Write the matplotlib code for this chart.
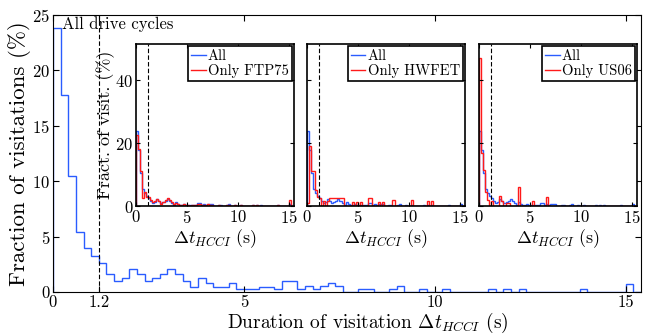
"""Fraction of visitations vs. HCCI visitation duration, with per-cycle insets."""

import matplotlib

matplotlib.use("Agg")
import matplotlib.pyplot as plt
import numpy as np

plt.rcParams["font.family"] = "serif"
plt.rcParams["font.serif"] = ["cmr10", "DejaVu Serif"]
plt.rcParams["mathtext.fontset"] = "cm"
plt.rcParams["axes.formatter.use_mathtext"] = True
plt.rcParams["xtick.direction"] = "in"
plt.rcParams["ytick.direction"] = "in"
plt.rcParams["xtick.top"] = True
plt.rcParams["ytick.right"] = True

BIN_WIDTH = 0.2  # s
THRESHOLD = 1.2  # s

# fraction of visitations (%) per 0.2 s bin, all drive cycles
all_cycles = [
    23.8, 17.8, 10.5, 5.4, 4.0, 3.2, 2.6, 1.6, 1.0, 1.27,
    2.1, 1.6, 1.0, 1.27, 1.6, 2.1, 1.6, 1.0, 0.45, 1.27,
    0.76, 0.45, 0.45, 0.76, 0.22, 0.22, 0.22, 0.45, 0.45, 0.22,
    1.0, 1.0, 0.25, 0.55, 0.25, 0.55, 0.77, 0.55, 0.0, 0.0,
    0.25, 0.25, 0.0, 0.0, 0.25, 0.55, 0.0, 0.0, 0.25, 0.0,
    0.0, 0.25, 0.0, 0.0, 0.0, 0.0, 0.0, 0.25, 0.0, 0.25,
    0.0, 0.25, 0.0, 0.0, 0.0, 0.0, 0.0, 0.0, 0.0, 0.25,
    0.0, 0.0, 0.0, 0.0, 0.0, 0.75, 0.0,
]

only_ftp75 = [
    22.5, 18.3, 11.0, 2.5, 4.5, 3.0, 2.8, 1.8, 1.2, 1.5,
    2.2, 1.6, 0.8, 1.4, 1.8, 2.5, 1.8, 1.2, 0.6, 1.0,
    0.8, 0.5, 0.3, 0.8, 0.3, 0.3, 0.0, 0.3, 0.5, 0.3,
    0.8, 0.8, 0.3, 0.5, 0.3, 0.8, 0.5, 0.3, 0.0, 0.0,
    0.3, 0.0, 0.0, 0.0, 0.3, 0.3, 0.0, 0.0, 0.3, 0.0,
    0.0, 0.3, 0.0, 0.0, 0.0, 0.0, 0.0, 0.3, 0.0, 0.3,
    0.0, 0.0, 0.0, 0.0, 0.0, 0.0, 0.0, 0.0, 0.0, 0.3,
    0.0, 0.0, 0.0, 0.0, 0.0, 1.8, 0.0,
]

only_hwfet = [
    1.0, 19.0, 11.0, 11.0, 5.0, 3.0, 2.5, 0.0, 1.5, 0.0,
    1.5, 2.5, 2.5, 2.5, 2.5, 2.5, 2.5, 2.5, 0.0, 0.0,
    0.0, 0.0, 1.4, 0.0, 1.4, 0.0, 1.4, 0.0, 0.0, 0.0,
    2.5, 2.5, 0.0, 0.0, 0.0, 1.4, 0.0, 1.4, 0.0, 0.0,
    0.0, 0.0, 2.0, 0.0, 0.0, 0.0, 0.0, 0.0, 0.0, 0.0,
    0.0, 2.0, 0.0, 0.0, 0.0, 0.0, 0.0, 0.0, 0.0, 1.5,
    0.0, 1.5, 0.0, 0.0, 0.0, 0.0, 0.0, 0.0, 0.0, 0.0,
    0.0, 0.0, 0.0, 0.0, 0.0, 0.0, 0.0,
]

only_us06 = [
    47.0, 16.8, 11.4, 4.5, 2.0, 0.0, 1.5, 0.0, 0.0, 0.0,
    3.2, 1.5, 0.0, 1.0, 1.0, 0.0, 0.0, 0.0, 0.0, 6.0,
    0.0, 0.0, 0.0, 0.0, 0.0, 0.0, 1.5, 0.0, 0.0, 0.0,
    0.0, 0.0, 0.0, 3.0, 0.0, 0.0, 0.0, 0.0, 0.0, 0.0,
    0.0, 0.0, 0.0, 0.0, 0.0, 0.0, 0.0, 0.0, 0.0, 0.0,
    0.0, 0.0, 0.0, 0.0, 0.0, 0.0, 0.0, 0.0, 0.0, 0.0,
    0.0, 0.0, 0.0, 0.0, 0.0, 0.0, 0.0, 0.0, 0.0, 0.0,
    0.0, 0.0, 0.0, 0.0, 0.0, 0.0, 0.0,
]

inset_series = [
    ("Only FTP75", only_ftp75),
    ("Only HWFET", only_hwfet),
    ("Only US06", only_us06),
]

BLUE = "#2a5cff"
RED = "#ff1a1a"
XLABEL_INSET = r"$\Delta t_{HCCI}$ (s)"

edges = np.arange(len(all_cycles) + 1) * BIN_WIDTH

fig = plt.figure(figsize=(6.46, 3.34), dpi=100)
ax = fig.add_axes([0.082, 0.126, 0.910, 0.829])
ax.stairs(all_cycles, edges, color=BLUE, linewidth=1.0, baseline=0)
ax.axvline(THRESHOLD, color="black", linestyle="--", linewidth=0.8, dashes=(4, 2))
ax.set_xlim(0, 15.4)
ax.set_ylim(0, 25)
ax.set_xticks([0, 1.2, 5, 10, 15])
ax.set_xticklabels(["0", "1.2", "5", "10", "15"])
ax.set_yticks([0, 5, 10, 15, 20, 25])
ax.tick_params(labelsize=12, length=4, pad=2)
ax.set_xlabel(r"Duration of visitation $\Delta t_{HCCI}$ (s)", fontsize=14, labelpad=0)
ax.xaxis.set_label_coords(0.535, -0.068)
ax.set_ylabel("Fraction of visitations (%)", fontsize=16.5, labelpad=1)
ax.text(0.015, 0.995, "All drive cycles", transform=ax.transAxes,
        ha="left", va="top", fontsize=12)

inset_lefts = [0.2105, 0.475, 0.7415]
for i, (left, (label, values)) in enumerate(zip(inset_lefts, inset_series)):
    ins = fig.add_axes([left, 0.383, 0.2446, 0.485])
    ins.stairs(all_cycles, edges, color=BLUE, linewidth=1.0, baseline=0, label="All")
    ins.stairs(values, edges, color=RED, linewidth=1.0, baseline=0, label=label)
    ins.axvline(THRESHOLD, color="black", linestyle="--", linewidth=0.8, dashes=(4, 2))
    ins.set_xlim(0, 15.5)
    ins.set_ylim(0, 51.5)
    ins.set_xticks([0, 5, 10, 15])
    ins.set_yticks([0, 20, 40])
    ins.tick_params(labelsize=12, length=3, pad=2)
    for spine in ins.spines.values():
        spine.set_linewidth(1.2)
    if i == 0:
        ins.set_ylabel("Fract. of visit. (%)", fontsize=13, labelpad=0)
    else:
        ins.set_yticklabels([])
    ins.set_xlabel(XLABEL_INSET, fontsize=13, labelpad=1)
    leg = ins.legend(loc="upper right", fontsize=10.5, handlelength=1.0,
                     handletextpad=0.15, borderpad=0.2, labelspacing=0.1,
                     borderaxespad=0.15, fancybox=False, framealpha=1)
    leg.get_frame().set_edgecolor("black")
    leg.get_frame().set_linewidth(1.2)

fig.savefig("out.png", dpi=100)
